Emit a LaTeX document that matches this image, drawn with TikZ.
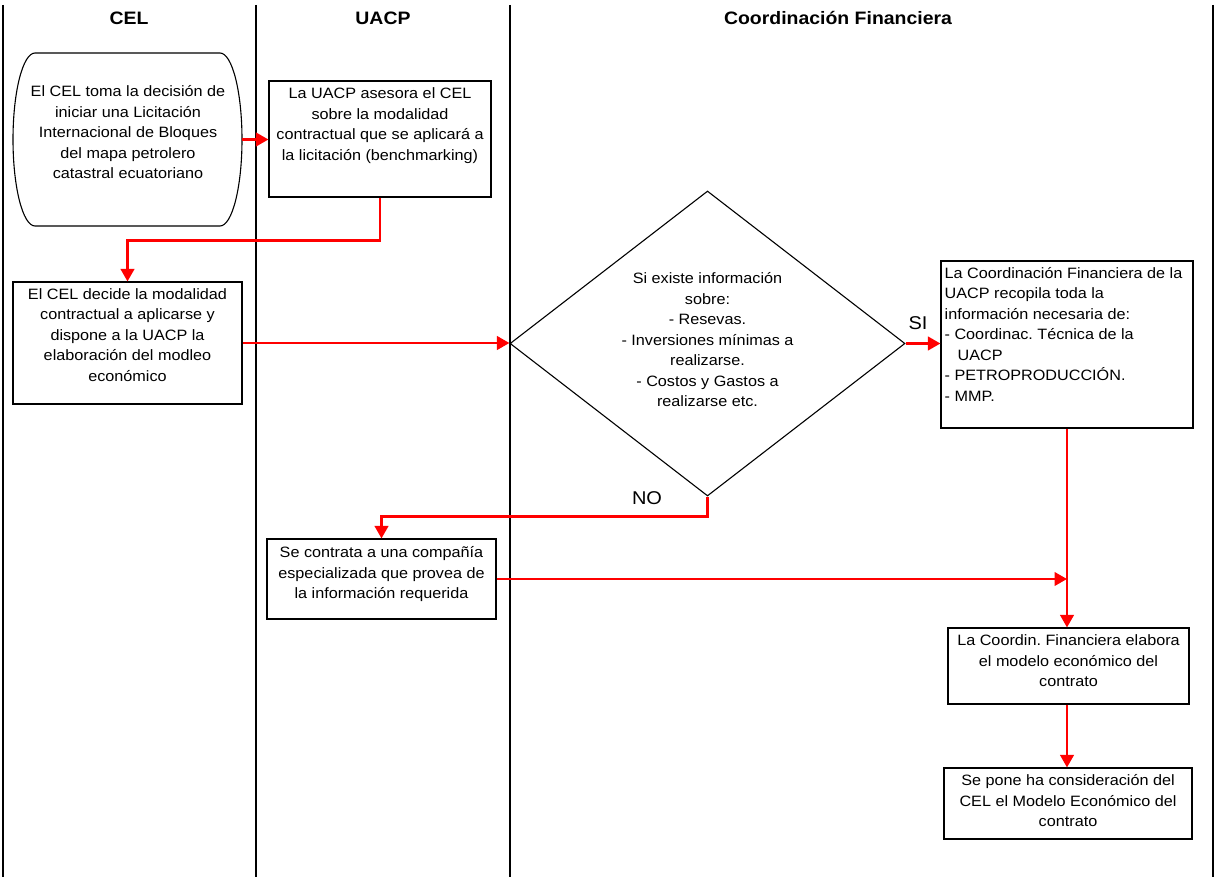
\documentclass[tikz,border=0pt]{standalone}
\usepackage{fontspec}
\setmainfont[FakeStretch=1.08]{Liberation Sans}
\usetikzlibrary{arrows.meta,shapes.geometric}
\newcommand{\firststrut}{\rule{0pt}{14pt}}
\frenchspacing

\begin{document}
\begin{tikzpicture}[x=1pt,y=-1pt,
  lane/.style={line width=2.2pt},
  head/.style={font=\fontsize{18}{21}\selectfont\bfseries},
  boxstyle/.style={draw, line width=1.1pt, inner sep=0pt, rectangle},
  body/.style={font=\fontsize{15}{20.5}\selectfont\frenchspacing, inner sep=0pt, align=center, anchor=north},
  lbl/.style={font=\fontsize{18.5}{21}\selectfont, inner sep=0pt},
  flow/.style={draw=red, line width=2.5pt, -{Triangle[length=12.5pt,width=13.5pt]}}]

\useasboundingbox (0,0) rectangle (1215,877);
\fill[white] (0,0) rectangle (1215,877);

% swimlane separators
\coordinate (l0t) at (3,5);    \coordinate (l0b) at (3,877);
\coordinate (l1t) at (256,5);  \coordinate (l1b) at (256,877);
\coordinate (l2t) at (510,5);  \coordinate (l2b) at (510,877);
\coordinate (l3t) at (1213,5); \coordinate (l3b) at (1213,877);
\draw[lane] (l0t) -- (l0b);
\draw[lane] (l1t) -- (l1b);
\draw[lane] (l2t) -- (l2b);
\draw[lane] (l3t) -- (l3b);

% lane headers
\node[head] (hcel) at (129,18) {CEL};
\node[head] (huacp) at (383,18) {UACP};
\node[head] (hcf) at (838,18) {Coordinación Financiera};

% start terminal
\node[minimum width=229pt, minimum height=173pt, inner sep=0pt] (start) at (127.5,139.5) {};
\draw[line width=1.1pt] (35,53) -- (220,53)
  arc[start angle=-90, end angle=90, x radius=22, y radius=86.5]
  -- (35,226)
  arc[start angle=90, end angle=270, x radius=22, y radius=86.5] -- cycle;
\node[body] (tstart) at (128,82.5) {\firststrut El CEL toma la decisión de\\iniciar una Licitación\\Internacional de Bloques\\del mapa petrolero\\catastral ecuatoriano};

% process boxes
\node[boxstyle, minimum width=222pt, minimum height=116pt] (uacp) at (380,139) {};
\node[body] (tuacp) at ([yshift=-4pt]uacp.north) {\firststrut La UACP asesora el CEL\\sobre la modalidad\\contractual que se aplicará a\\la licitación (benchmarking)};

\node[boxstyle, minimum width=229pt, minimum height=122pt] (decide) at (127.5,343) {};
\node[body] (tdecide) at ([yshift=-3.5pt]decide.north) {\firststrut El CEL decide la modalidad\\contractual a aplicarse y\\dispone a la UACP la\\elaboración del modleo\\económico};

\node[diamond, draw, line width=1.1pt, minimum width=395pt, minimum height=305pt, inner sep=0pt] (dec) at (707.5,343.5) {};
\node[body, anchor=north] (tdec) at (707.5,269.5) {\firststrut Si existe información\\sobre:\\- Resevas.\\- Inversiones mínimas a\\realizarse.\\- Costos y Gastos a\\realizarse etc.};

\node[boxstyle, minimum width=252pt, minimum height=167pt] (recop) at (1067,344.5) {};
\node[body, align=left, anchor=north west] (trecop) at ([xshift=4pt,yshift=-3.5pt]recop.north west) {\firststrut La Coordinación Financiera de la\\UACP recopila toda la\\información necesaria de:\\- Coordinac. Técnica de la\\\hspace*{13pt}UACP\\- PETROPRODUCCIÓN.\\- MMP.};

\node[boxstyle, minimum width=229pt, minimum height=80pt] (contr) at (381.5,579) {};
\node[body] (tcontr) at ([yshift=-5pt]contr.north) {\firststrut Se contrata a una compañía\\especializada que provea de\\la información requerida};

\node[boxstyle, minimum width=241pt, minimum height=76pt] (elab) at (1068.5,666) {};
\node[body] (telab) at ([yshift=-4pt]elab.north) {\firststrut La Coordin. Financiera elabora\\el modelo económico del\\contrato};

\node[boxstyle, minimum width=248pt, minimum height=71pt] (pone) at (1068,803.5) {};
\node[body] (tpone) at ([yshift=-4pt]pone.north) {\firststrut Se pone ha consideración del\\CEL el Modelo Económico del\\contrato};

% branch labels
\node[lbl] (si) at (918,323) {SI};
\node[lbl] (no) at (647,498) {NO};

% connectors
\draw[flow] (start.east) -- (start.east -| uacp.west);
\draw[flow] (uacp.south) -- ++(0,43) -| (decide.north);
\draw[flow] (decide.east) -- (decide.east -| dec.west);
\draw[flow] (dec.east) -- (dec.east -| recop.west);
\draw[flow] (dec.south) -- ++(0,20) -| (contr.north);
\coordinate (join) at (recop.south |- contr.east);
\draw[flow] (recop.south) -- (recop.south |- elab.north);
\draw[flow] (contr.east) -- (join);
\draw[flow] (recop.south |- elab.south) -- (recop.south |- pone.north);

\end{tikzpicture}
\end{document}
